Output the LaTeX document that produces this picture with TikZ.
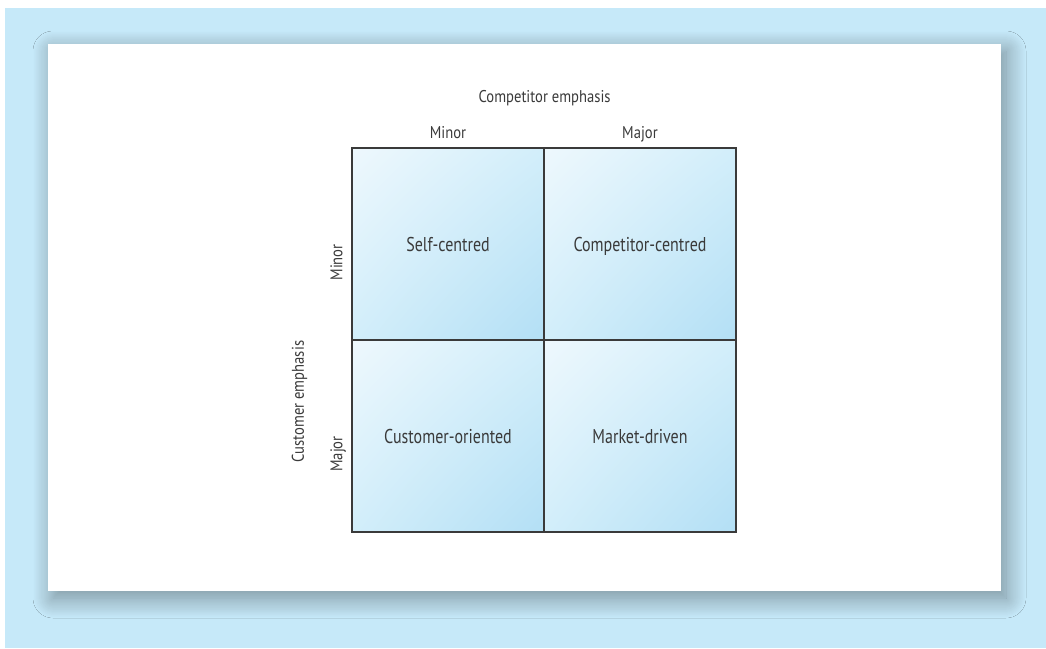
\documentclass[tikz,border=0pt]{standalone}
\usepackage{fontspec}
\setmainfont{PT Sans}[FakeStretch=0.8]
\newfontfamily\axisfont{PT Sans}[FakeStretch=0.86]
\usetikzlibrary{positioning, shadings, shadows.blur}

\definecolor{backblue}{HTML}{C6E9F9}
\definecolor{cellhi}{HTML}{EEF8FD}
\definecolor{cellmid}{HTML}{D2EEFA}
\definecolor{celllo}{HTML}{B3DFF5}
\definecolor{inkgray}{HTML}{3A3A3A}

\begin{document}
\begin{tikzpicture}[x=1pt,y=-1pt,node distance=192pt,on grid,
      every node/.style={text=inkgray,text depth=0pt},
      cell/.style={draw=inkgray,line width=1.2pt,minimum size=192pt,inner sep=0pt,
        upper left=cellhi,upper right=cellmid,lower left=cellmid,lower right=celllo,
        font=\fontsize{20}{24}\selectfont,text height=14pt},
      axis/.style={font=\axisfont\fontsize{17}{20}\selectfont,text height=12pt,inner sep=0pt}]
      \useasboundingbox (0,0) rectangle (1046,648);
      \fill[backblue] (5,8) rectangle (1046,648);
      \fill[white, blur shadow={shadow xshift=5pt,shadow yshift=-7pt,
        shadow blur radius=20pt,shadow blur steps=20,shadow opacity=40}]
        (48,44) rectangle (1001,591);
      % the four cells
      \node[cell] (selfc) at (448,244) {Self-centred};
      \node[cell] (compc) [right=of selfc] {Competitor-centred};
      \node[cell] (custo) [below=of selfc] {Customer-oriented};
      \node[cell] (markd) [below=of compc] {Market-driven};
      % axis labels
      \node[axis] (colminor) [above=9pt of selfc.north] {Minor};
      \node[axis] (colmajor) [above=9pt of compc.north] {Major};
      \node[axis] (compem) [above=45pt of selfc.north east] {Competitor emphasis};
      \node[axis,rotate=90] (rowminor) [left=15pt of selfc.west] {Minor};
      \node[axis,rotate=90] (rowmajor) [left=15pt of custo.west] {Major};
      \node[axis,rotate=90] (custem) [left=53.5pt of selfc.south west] {Customer emphasis};
    \end{tikzpicture}
\end{document}
